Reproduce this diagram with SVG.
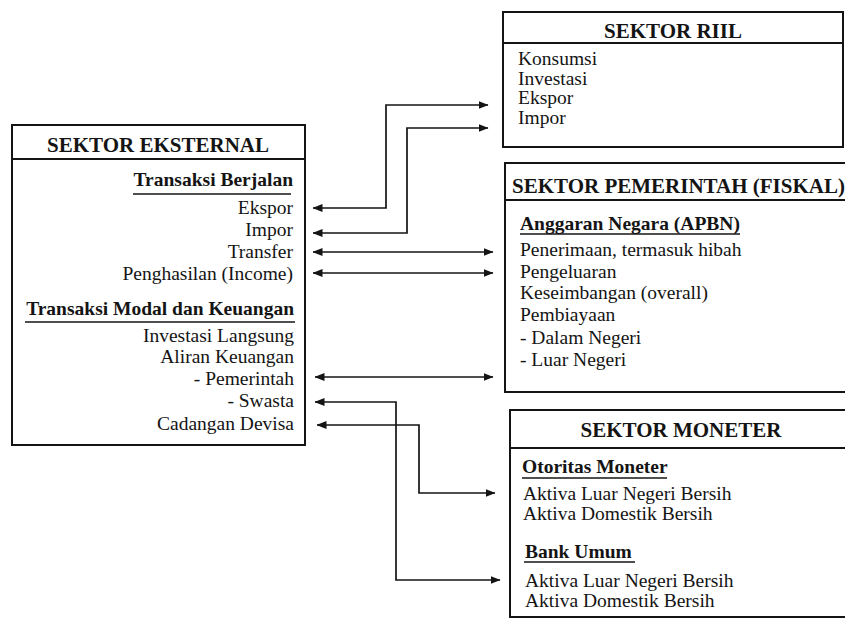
<svg xmlns="http://www.w3.org/2000/svg" width="845" height="623" viewBox="0 0 845 623">
<defs>
<style>
.box{fill:none;stroke:#141414;stroke-width:2}
.div{stroke:#141414;stroke-width:1.8}
.ul{stroke:#141414;stroke-width:1.5}
.t{font-family:"Liberation Serif","Times New Roman",serif;font-size:19.5px;fill:#141414}
.b{font-weight:bold}
.h{font-family:"Liberation Serif","Times New Roman",serif;font-size:21px;font-weight:bold;fill:#141414}
.e{text-anchor:end}
.m{text-anchor:middle}
.c{fill:none;stroke:#141414;stroke-width:1.7;marker-start:url(#ah);marker-end:url(#ah)}
</style>
<marker id="ah" viewBox="0 0 10 8" refX="9.5" refY="4" markerWidth="10" markerHeight="8" markerUnits="userSpaceOnUse" orient="auto-start-reverse">
<path d="M0,0 L10,4 L0,8 Z" fill="#141414"/>
</marker>
</defs>
<rect width="845" height="623" fill="#fff"/>

<g id="sektor-eksternal">
<rect class="box" x="12" y="125" width="293" height="320"/>
<line class="div" x1="12" y1="159" x2="305" y2="159"/>
<text class="h m" x="158" y="152">SEKTOR EKSTERNAL</text>
<text class="t b e" x="293" y="186">Transaksi Berjalan</text>
<line class="ul" x1="133" y1="194" x2="291" y2="194"/>
<text class="t e" x="293" y="214">Ekspor</text>
<text class="t e" x="293" y="236">Impor</text>
<text class="t e" x="293" y="258">Transfer</text>
<text class="t e" x="293" y="280">Penghasilan (Income)</text>
<text class="t b e" x="294" y="315">Transaksi Modal dan Keuangan</text>
<line class="ul" x1="25" y1="322" x2="295" y2="322"/>
<text class="t e" x="294" y="342">Investasi Langsung</text>
<text class="t e" x="294" y="363">Aliran Keuangan</text>
<text class="t e" x="294" y="385">- Pemerintah</text>
<text class="t e" x="294" y="407">- Swasta</text>
<text class="t e" x="294" y="430">Cadangan Devisa</text>
</g>

<g id="sektor-riil">
<rect class="box" x="503" y="12" width="340" height="135"/>
<line class="div" x1="503" y1="43" x2="843" y2="43"/>
<text class="h m" x="673" y="38">SEKTOR RIIL</text>
<text class="t" x="518" y="65">Konsumsi</text>
<text class="t" x="518" y="85">Investasi</text>
<text class="t" x="518" y="104">Ekspor</text>
<text class="t" x="518" y="124">Impor</text>
</g>

<g id="sektor-pemerintah">
<rect class="box" x="505" y="163" width="345" height="229"/>
<line class="div" x1="505" y1="200" x2="850" y2="200"/>
<text class="h" x="512" y="193">SEKTOR PEMERINTAH (FISKAL)</text>
<text class="t b" x="520" y="230">Anggaran Negara (APBN)</text>
<line class="ul" x1="520" y1="234" x2="740" y2="234"/>
<text class="t" x="520" y="256">Penerimaan, termasuk hibah</text>
<text class="t" x="520" y="278">Pengeluaran</text>
<text class="t" x="520" y="299">Keseimbangan (overall)</text>
<text class="t" x="520" y="321">Pembiayaan</text>
<text class="t" x="520" y="344">- Dalam Negeri</text>
<text class="t" x="520" y="366">- Luar Negeri</text>
</g>

<g id="sektor-moneter">
<rect class="box" x="510" y="410" width="340" height="207"/>
<line class="div" x1="510" y1="448" x2="850" y2="448"/>
<text class="h m" x="681" y="437">SEKTOR MONETER</text>
<text class="t b" x="522" y="473">Otoritas Moneter</text>
<line class="ul" x1="522" y1="478" x2="667" y2="478"/>
<text class="t" x="523" y="500">Aktiva Luar Negeri Bersih</text>
<text class="t" x="523" y="520">Aktiva Domestik Bersih</text>
<text class="t b" x="525" y="558">Bank Umum</text>
<line class="ul" x1="524" y1="562" x2="635" y2="562"/>
<text class="t" x="525" y="587">Aktiva Luar Negeri Bersih</text>
<text class="t" x="525" y="607">Aktiva Domestik Bersih</text>
</g>

<g id="connectors">
<path class="c" d="M313,208 H386 V105 H488"/>
<path class="c" d="M313,233 H407 V128 H488"/>
<path class="c" d="M313,252 H493"/>
<path class="c" d="M313,273 H493"/>
<path class="c" d="M315,377 H493"/>
<path class="c" d="M315,402 H396 V580 H500"/>
<path class="c" d="M317,425 H419 V493 H495"/>
</g>
</svg>
